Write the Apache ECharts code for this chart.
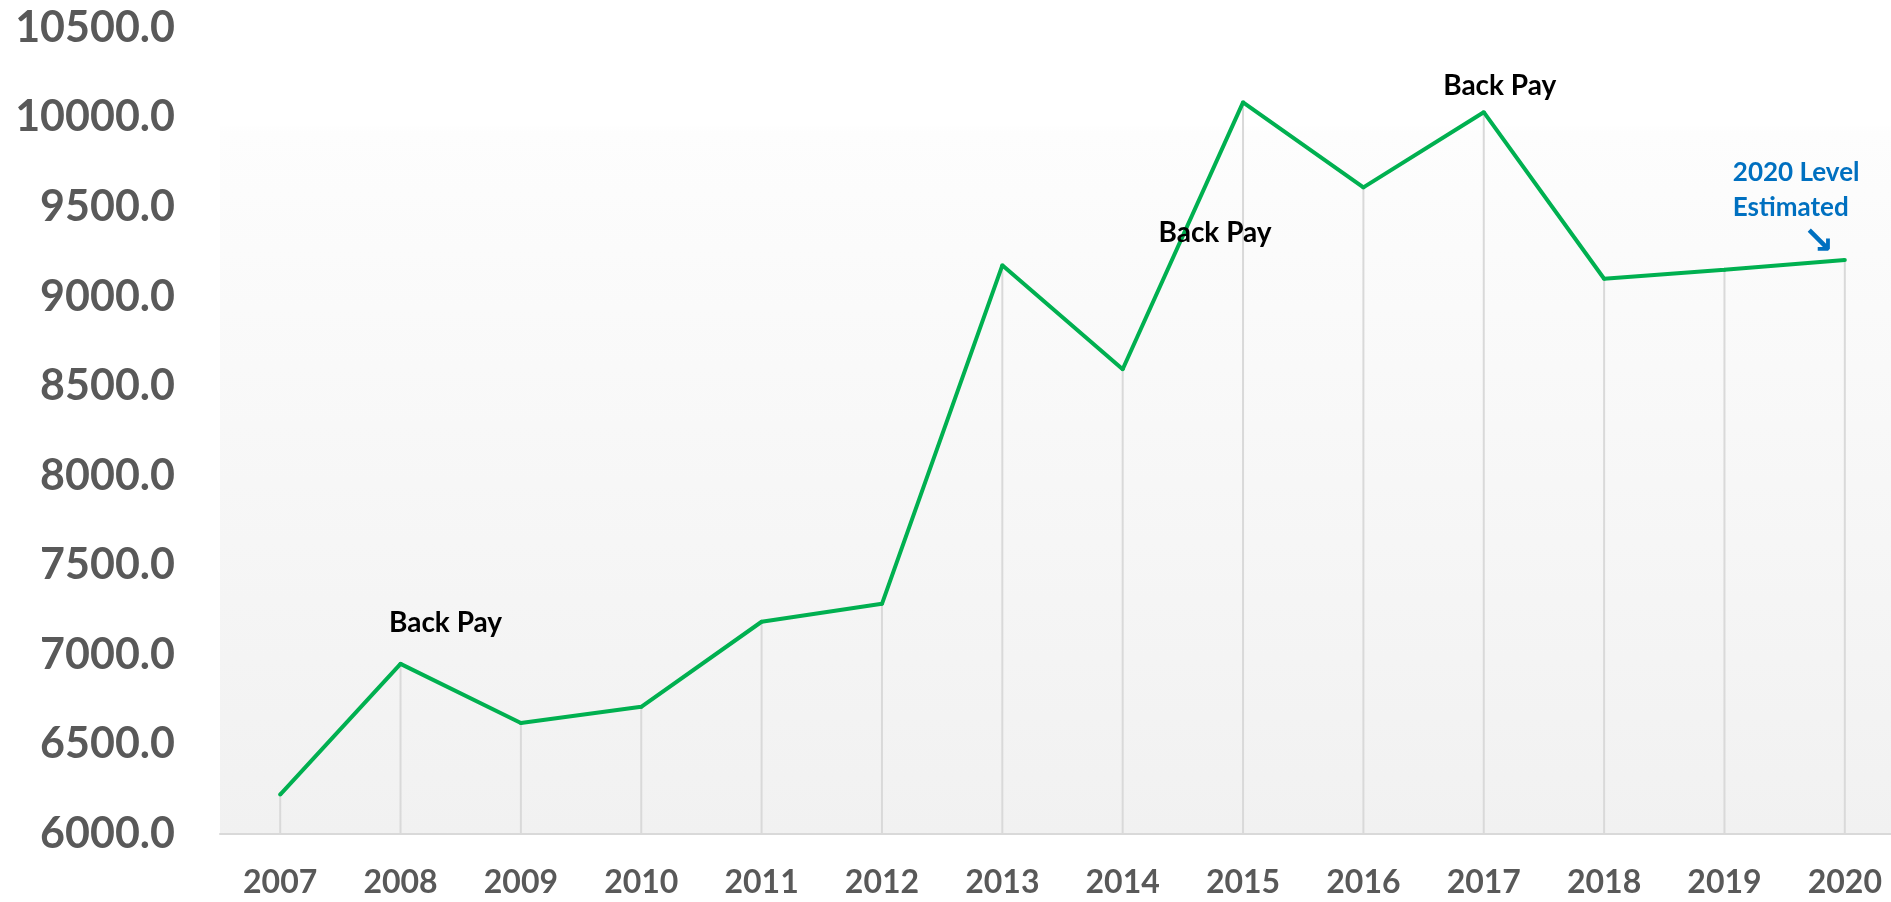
<!DOCTYPE html>
<html>
<head>
<meta charset='utf-8' />
<title></title>
<style>
html, body { margin: 0; padding: 0; background: #fff; }
#chart { width: 1891px; height: 902px; }
</style>
</head>
<body>
<div id="chart"></div>
<script src="https://cdn.jsdelivr.net/npm/echarts@6/dist/echarts.min.js"></script>
<script>
// data
var years = ['2007','2008','2009','2010','2011','2012','2013','2014','2015','2016','2017','2018','2019','2020'];
var values = [6220, 6950, 6620, 6710, 7185, 7285, 9175, 8595, 10085, 9610, 10030, 9100, 9150, 9205];
var yTicks = { min: 6000, max: 10500, interval: 500 };
var notes = { '2008': 'Back Pay', '2015': 'Back Pay', '2017': 'Back Pay', '2020': '2020 Level\nEstimated' };

// label placement (style, not data)
var noteOffset = { '2008': [45, -41], '2015': [-28, 131], '2017': [16, -26], '2020': [-112, -52] };

var chart = echarts.init(document.getElementById('chart'));

var lineData = values.map(function (v, i) {
  var y = years[i];
  if (!notes[y]) return v;
  var item = { value: v, label: { show: true, position: 'inside', offset: noteOffset[y] } };
  if (y === '2020') {
    item.label.align = 'left';
    item.label.color = '#0070c0';
    item.label.fontSize = 26;
    item.label.lineHeight = 35;
    item.label.formatter = notes[y] + '\n{a|\u2198}';
    item.label.rich = { a: { fontFamily: 'DejaVu Sans', fontWeight: 'bold', color: '#0070c0', fontSize: 38, lineHeight: 35, padding: [0, 0, 0, 70] } };
  } else {
    item.label.formatter = notes[y];
  }
  return item;
});

var option = {
  animation: false,
  textStyle: { fontFamily: 'Lato' },
  grid: {
    left: 220, width: 1685, top: 28, bottom: 68,
    outerBoundsMode: 'none',
    containLabel: false,
    show: true, borderWidth: 0,
    backgroundColor: {
      type: 'linear', x: 0, y: 0, x2: 0, y2: 1,
      colorStops: [
        { offset: 0, color: '#ffffff' },
        { offset: 0.12, color: '#ffffff' },
        { offset: 0.13, color: '#fdfdfd' },
        { offset: 1, color: '#f1f1f1' }
      ]
    }
  },
  xAxis: {
    type: 'category',
    data: years,
    boundaryGap: true,
    axisLine: { lineStyle: { color: '#d9d9d9', width: 2 } },
    axisTick: { show: false },
    axisLabel: { color: '#595959', fontWeight: 'bold', fontSize: 32, margin: 33, fontFamily: 'Lato' }
  },
  yAxis: {
    type: 'value',
    min: yTicks.min, max: yTicks.max, interval: yTicks.interval,
    axisLine: { show: false },
    axisTick: { show: false },
    splitLine: { show: false },
    axisLabel: {
      color: '#595959', fontWeight: 'bold', fontSize: 43, margin: 45, fontFamily: 'Lato',
      formatter: function (v) { return v.toFixed(1); }
    }
  },
  series: [
    {
      // drop lines from each point to the axis
      type: 'bar',
      data: values,
      barWidth: 2,
      clip: true,
      silent: true,
      itemStyle: { color: '#d9d9d9' }
    },
    {
      type: 'line',
      data: lineData,
      symbol: 'circle',
      symbolSize: 4,
      showSymbol: true,
      itemStyle: { color: '#00b050' },
      lineStyle: { color: '#00b050', width: 4 },
      label: { color: '#000', fontWeight: 'bold', fontSize: 28, fontFamily: 'Lato' }
    }
  ]
};

chart.setOption(option);
</script>
</body>
</html>
